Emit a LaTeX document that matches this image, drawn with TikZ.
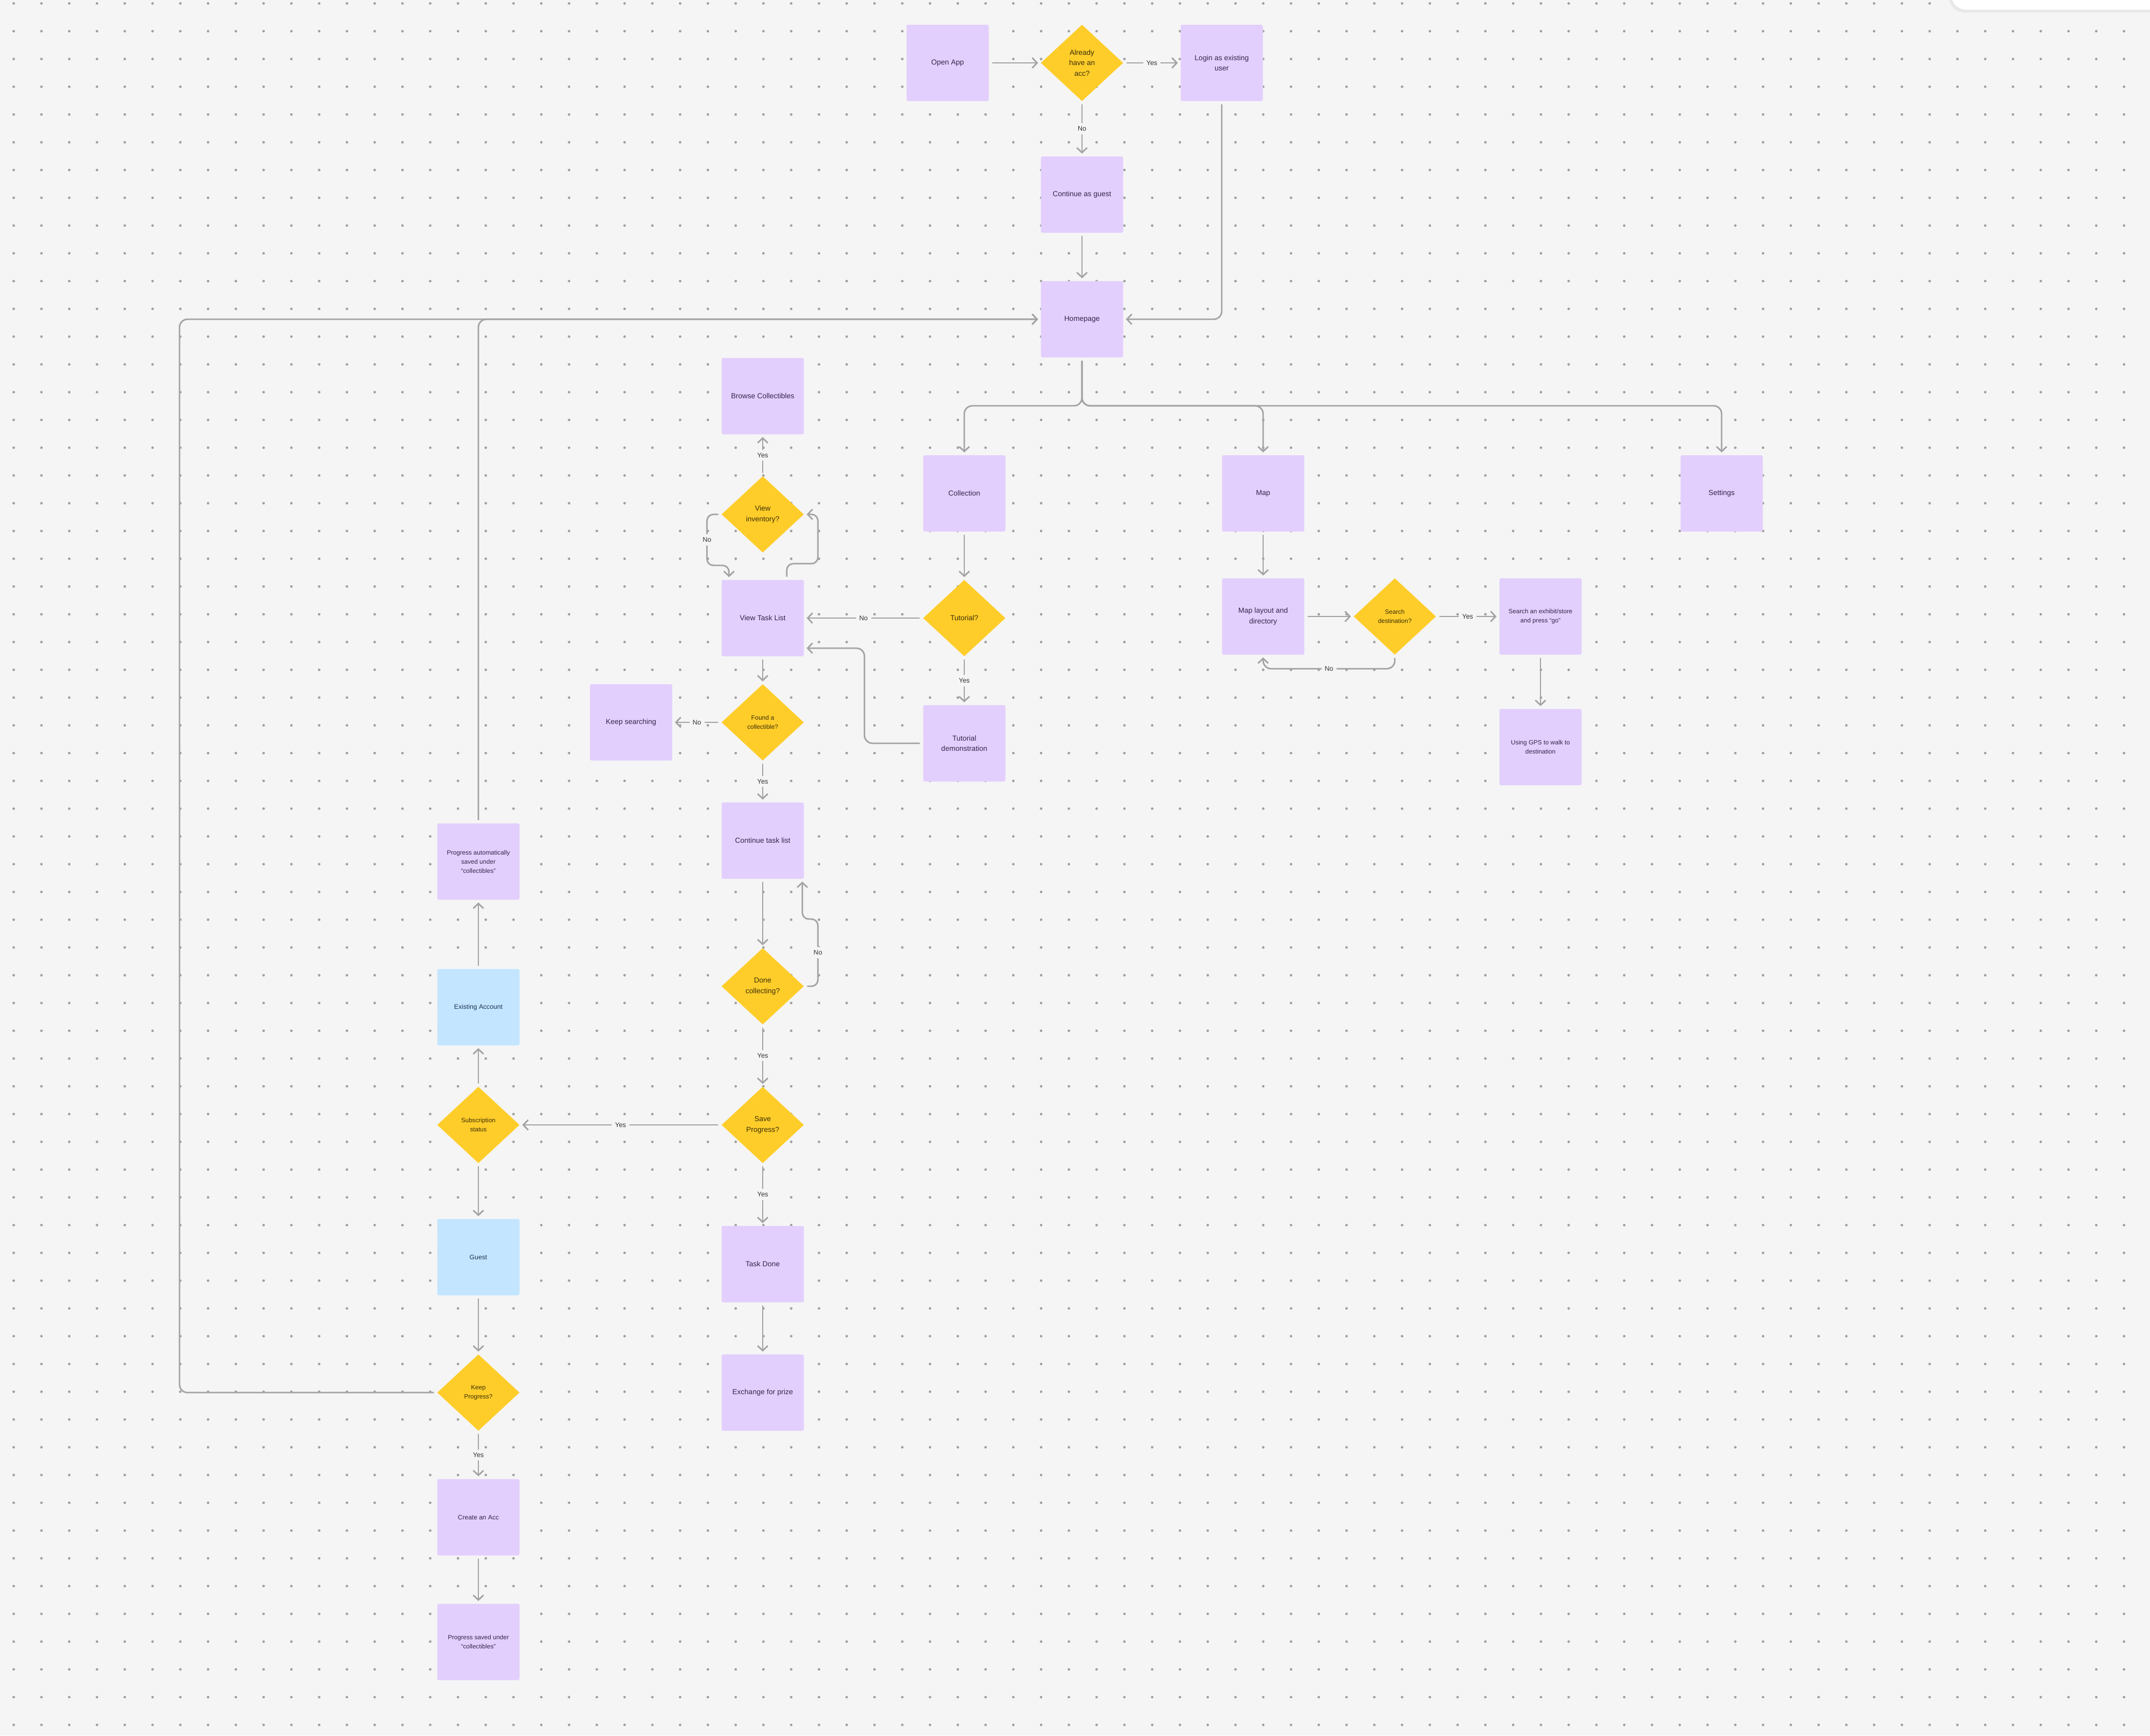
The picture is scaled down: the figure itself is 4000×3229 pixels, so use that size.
\documentclass[tikz,border=0pt]{standalone}
\usepackage{fontspec}
\setmainfont{Liberation Sans}
\usetikzlibrary{positioning, arrows.meta, shapes.geometric}
\definecolor{canvas}{HTML}{F5F5F5}
\definecolor{dotgray}{HTML}{A0A0A0}
\definecolor{linegray}{HTML}{A3A3A3}
\definecolor{lilac}{HTML}{E3CFFD}
\definecolor{skyblue}{HTML}{C3E5FF}
\definecolor{amber}{HTML}{FFCD29}
\definecolor{lilactext}{HTML}{33264A}
\definecolor{bluetext}{HTML}{1E3550}
\definecolor{ambertext}{HTML}{3B2F0A}
\definecolor{labeltext}{HTML}{333333}
\tikzset{>={Straight Barb[length=9pt, width=19pt]}, node distance=232pt,
  box/.style={rectangle, rounded corners=3pt, fill=lilac, text=lilactext,
    minimum width=153pt, minimum height=142pt, inner sep=0pt, align=center},
  acct/.style={box, fill=skyblue, text=bluetext, font=\fontsize{12.2}{17.5}\selectfont},
  decision/.style={diamond, fill=amber, text=ambertext, minimum width=153pt,
    minimum height=142pt, inner sep=0pt, align=center},
  smalltext/.style={font=\fontsize{11.6}{17}\selectfont},
  flow/.style={->, draw=linegray, line width=2.8pt, shorten <=6pt, shorten >=5pt},
  lbl/.style={fill=canvas, text=labeltext, inner sep=6pt, font=\fontsize{12.5}{14}\selectfont}}

\begin{document}
\begin{tikzpicture}[x=1pt, y=-1pt, font=\fontsize{13.5}{19.5}\selectfont]
    \fill[canvas] (0,0) rectangle (4000,3229);
    \useasboundingbox (0,0) rectangle (4000,3229);
    \foreach \i in {0,...,76}
        \foreach \j in {0,...,62}
            \fill[dotgray] ({25.5+51.66*\i},{6.4+51.66*\j}) circle (2.4pt);
    \fill[black!9, rounded corners=28pt] (3626,-40) rectangle (4050,23);
    \fill[white, rounded corners=28pt] (3630,-40) rectangle (4050,18);

    \node[box] (open) at (1763,117) {Open App};
    \node[decision, node distance=250pt, right of=open] (acc) {Already\\have an\\acc?};
    \node[box, node distance=260pt, right of=acc] (login) {Login as existing\\user};
    \node[box, node distance=245pt, below of=acc] (guest0) {Continue as guest};
    \node[box, below of=guest0] (home) {Homepage};
    \coordinate[node distance=161pt, below of=home] (split);
    \coordinate (back) at (334,0);

    \node[box, node distance=324pt, below of=home, xshift=-219pt] (coll) {Collection};
    \node[box, node distance=556pt, right of=coll] (map) {Map};
    \node[box, node distance=853pt, right of=map] (settings) {Settings};
    \node[box, node distance=229pt, below of=map] (layout) {Map layout and\\directory};
    \node[decision, smalltext, node distance=245pt, right of=layout] (search) {Search\\destination?};
    \node[box, smalltext, node distance=271pt, right of=search] (exhibit) {Search an exhibit/store\\and press “go”};
    \node[box, smalltext, node distance=243pt, below of=exhibit] (gps) {Using GPS to walk to\\destination};

    \node[decision, below of=coll] (tut) {Tutorial?};
    \node[box, node distance=233pt, below of=tut] (demo) {Tutorial\\demonstration};
    \node[box, node distance=375pt, left of=tut] (vtl) {View Task List};
    \node[decision, node distance=193pt, above of=vtl] (vinv) {View\\inventory?};
    \node[box, node distance=220pt, above of=vinv] (browse) {Browse Collectibles};
    \node[decision, smalltext, node distance=194pt, below of=vtl] (found) {Found a\\collectible?};
    \node[box, node distance=245pt, left of=found] (keep) {Keep searching};
    \node[box, node distance=220pt, below of=found] (ctl) {Continue task list};
    \node[decision, node distance=271pt, below of=ctl] (done) {Done\\collecting?};
    \node[decision, node distance=258pt, below of=done] (save) {Save\\Progress?};
    \node[box, node distance=259pt, below of=save] (taskdone) {Task Done};
    \node[box, node distance=239pt, below of=taskdone] (prize) {Exchange for prize};

    \node[decision, smalltext, node distance=529pt, left of=save] (sub) {Subscription\\status};
    \node[acct, node distance=219pt, above of=sub] (existing) {Existing Account};
    \node[box, smalltext, node distance=271pt, above of=existing] (autosave) {Progress automatically\\saved under\\“collectibles”};
    \node[acct, node distance=246pt, below of=sub] (guest) {Guest};
    \node[decision, smalltext, node distance=252pt, below of=guest] (kprog) {Keep\\Progress?};
    \node[box, font=\fontsize{12}{17}\selectfont, below of=kprog] (create) {Create an Acc};
    \node[box, smalltext, below of=create] (saved) {Progress saved under\\“collectibles”};

    \draw[flow] (open) -- (acc);
    \draw[flow] (acc) -- node[lbl]{Yes} (login);
    \draw[flow] (acc) -- node[lbl]{No} (guest0);
    \draw[flow] (guest0) -- (home);
    \draw[flow, rounded corners=15pt] (login) |- (home);
    \draw[flow, rounded corners=15pt] (home) -- (split) -| (coll);
    \draw[flow, rounded corners=15pt] (home) -- (split) -| (map);
    \draw[flow, rounded corners=15pt] (home) -- (split) -| (settings);

    \draw[flow] (map) -- (layout);
    \draw[flow] (layout) -- (search);
    \draw[flow] (search) -- node[lbl]{Yes} (exhibit);
    \draw[flow, rounded corners=15pt] (search.south) -- ++(0,26) -| node[lbl, pos=0.25]{No} (layout.south);
    \draw[flow] (exhibit) -- (gps);

    \draw[flow] (coll) -- (tut);
    \draw[flow] (tut) -- node[lbl]{No} (vtl);
    \draw[flow] (tut) -- node[lbl]{Yes} (demo);
    \draw[flow, rounded corners=15pt] (demo.west) -- ++(-109,0) |- ([yshift=-56pt]vtl.east);
    \draw[flow] (vinv) -- node[lbl]{Yes} (browse);
    \draw[flow, rounded corners=12pt] (vinv.west) -| node[lbl, pos=0.75]{No} ++(-27,95) -| ([xshift=14pt]vtl.north west);
    \draw[flow, rounded corners=12pt] ([xshift=-32pt]vtl.north east) |- ++(58,-30) |- (vinv.east);
    \draw[flow] (vtl) -- (found);
    \draw[flow] (found) -- node[lbl]{No} (keep);
    \draw[flow] (found) -- node[lbl]{Yes} (ctl);
    \draw[flow] (ctl) -- (done);
    \draw[flow, rounded corners=12pt] (done.east) -| node[lbl, pos=0.75]{No} ++(26,-125) -| ([xshift=-3pt]ctl.south east);
    \draw[flow] (done) -- node[lbl]{Yes} (save);
    \draw[flow] (save) -- node[lbl]{Yes} (sub);
    \draw[flow] (save) -- node[lbl]{Yes} (taskdone);
    \draw[flow] (taskdone) -- (prize);

    \draw[flow] (sub) -- (existing);
    \draw[flow] (existing) -- (autosave);
    \draw[flow, rounded corners=15pt] (autosave) |- (home);
    \draw[flow] (sub) -- (guest);
    \draw[flow] (guest) -- (kprog);
    \draw[flow, rounded corners=15pt] (kprog) -| (back |- home) -- (home);
    \draw[flow] (kprog) -- node[lbl]{Yes} (create);
    \draw[flow] (create) -- (saved);
\end{tikzpicture}
\end{document}
